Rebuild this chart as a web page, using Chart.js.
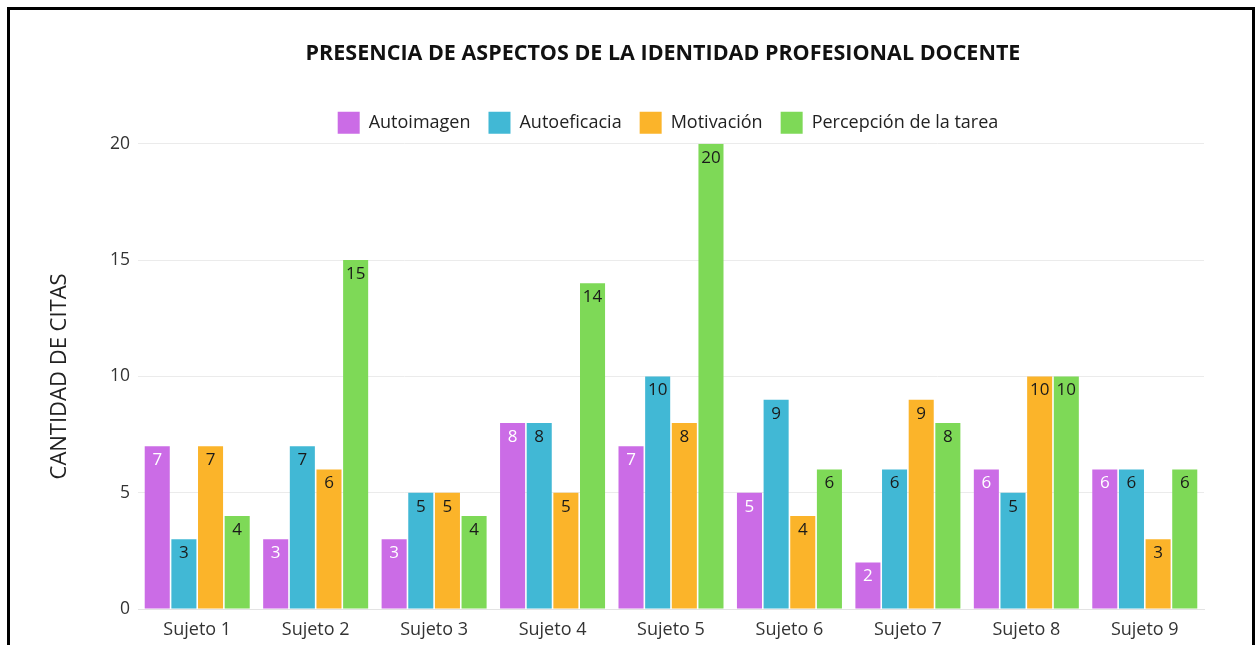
<!DOCTYPE html>
<html>
<head>
<meta charset="utf-8">
<script src="https://cdn.jsdelivr.net/npm/chart.js@4.4.1/dist/chart.umd.min.js"></script>
<style>
  html, body { margin: 0; padding: 0; background: #fff; overflow: hidden; }
  .frame { position: absolute; left: 7px; top: 7px; width: 1242px; height: 700px; border: 3px solid #000; overflow: hidden; background: #fff; }
  .chart-wrap { position: absolute; left: 0; top: 0; width: 1306px; height: 650px; }
</style>
</head>
<body>
<div class="frame">
  <div class="chart-wrap"><canvas id="identidad_chart"></canvas></div>
</div>
<script>
var sujetos = ["Sujeto 1", "Sujeto 2", "Sujeto 3", "Sujeto 4", "Sujeto 5", "Sujeto 6", "Sujeto 7", "Sujeto 8", "Sujeto 9"];
var autoimagen = [7, 3, 3, 8, 7, 5, 2, 6, 6];
var autoeficacia = [3, 7, 5, 8, 10, 9, 6, 5, 6];
var motivacion = [7, 6, 5, 5, 8, 4, 9, 10, 3];
var percepcionTarea = [4, 15, 4, 14, 20, 6, 8, 10, 6];
var yTicks = [0, 5, 10, 15, 20];

var fontFam = "'Open Sans', 'Noto Sans', sans-serif";

// etiquetas de valor dentro de cada barra
var valueLabels = {
    id: "valueLabels",
    afterDatasetsDraw(chart) {
        var ctx = chart.ctx;
        ctx.save();
        ctx.font = "17px " + fontFam;
        ctx.textAlign = "center";
        ctx.textBaseline = "middle";
        chart.data.datasets.forEach(function (ds, i) {
            var meta = chart.getDatasetMeta(i);
            if (meta.hidden) return;
            meta.data.forEach(function (bar, j) {
                ctx.fillStyle = ds.labelColor;
                ctx.fillText(ds.data[j], bar.x, bar.y + 14);
            });
        });
        ctx.restore();
    },
};

// titulo y leyenda centrados sobre todo el lienzo, no solo el area de grafico
var centerHeader = {
    id: "centerHeader",
    afterLayout(chart) {
        if (chart.titleBlock) { chart.titleBlock.left = 0; chart.titleBlock.right = chart.width; }
        if (chart.legend) { chart.legend.left = 10; chart.legend.right = chart.width; }
    },
};

var ctx = document.getElementById("identidad_chart");
var myChart = new Chart(ctx, {
    type: "bar",
    data: {
        labels: sujetos,
        datasets: [
            { label: "Autoimagen", data: autoimagen, backgroundColor: "#CB6CE6", labelColor: "#ffffff" },
            { label: "Autoeficacia", data: autoeficacia, backgroundColor: "#41B8D5", labelColor: "#1a1a1a" },
            { label: "Motivación", data: motivacion, backgroundColor: "#FBB42A", labelColor: "#1a1a1a" },
            { label: "Percepción de la tarea", data: percepcionTarea, backgroundColor: "#7ED957", labelColor: "#1a1a1a" },
        ],
    },
    options: {
        responsive: true,
        maintainAspectRatio: false,
        animation: false,
        datasets: { bar: { categoryPercentage: 0.9, barPercentage: 0.94, borderWidth: 0 } },
        layout: { padding: { left: 0, right: 112, top: 0, bottom: 11 } },
        scales: {
            x: {
                grid: { display: false, drawTicks: false },
                border: { display: true, color: "#e3e3e3" },
                ticks: { color: "#333", padding: 10, font: { family: fontFam, size: 18 } },
                afterFit: function (s) { s.height = 40; },
            },
            y: {
                min: 0,
                max: 20,
                afterBuildTicks: function (s) { s.ticks = yTicks.map(function (v) { return { value: v }; }); },
                grid: { color: "#ebebeb", drawTicks: false },
                border: { display: false },
                ticks: { color: "#333", padding: 8, font: { family: fontFam, size: 17.5 } },
                title: { display: true, text: "CANTIDAD DE CITAS", color: "#222", padding: { top: 37, bottom: 0 }, font: { family: fontFam, size: 22 } },
                afterFit: function (s) { s.width = 128; },
            },
        },
        plugins: {
            title: {
                display: true,
                text: "PRESENCIA DE ASPECTOS DE LA IDENTIDAD PROFESIONAL DOCENTE",
                color: "#111",
                padding: { top: 31, bottom: 27 },
                font: { family: fontFam, size: 21.5, weight: "bold" },
            },
            legend: {
                labels: { boxWidth: 22, boxHeight: 22, padding: 18, color: "#222", font: { family: fontFam, size: 18 } },
            },
            tooltip: { enabled: false },
        },
    },
    plugins: [valueLabels, centerHeader],
});
</script>
</body>
</html>
